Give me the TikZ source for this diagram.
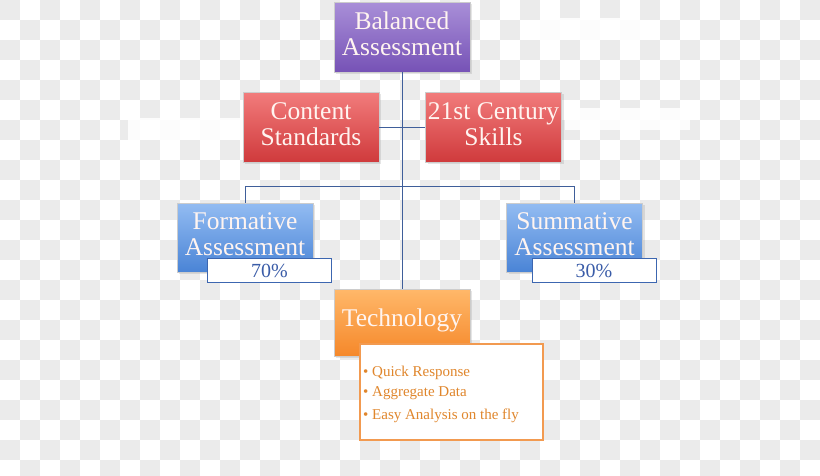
\documentclass[tikz,border=0pt]{standalone}
\usepackage{fontspec}
\setmainfont{Liberation Serif}
\usetikzlibrary{shadows}
\definecolor{chk}{HTML}{EBEBEB}
\definecolor{linec}{HTML}{3F5E9A}
\definecolor{pTop}{HTML}{A98FD8}
\definecolor{pBot}{HTML}{7652B6}
\definecolor{rTop}{HTML}{F27C7C}
\definecolor{rBot}{HTML}{CF3A3C}
\definecolor{bTop}{HTML}{93BCF2}
\definecolor{bBot}{HTML}{4A84D6}
\definecolor{oTop}{HTML}{FFB86A}
\definecolor{oBot}{HTML}{F5882A}
\definecolor{pctBorder}{HTML}{3C66B0}
\definecolor{pctText}{HTML}{3A5CA8}
\definecolor{listBorder}{HTML}{F29A50}
\definecolor{listText}{HTML}{E0862C}
\definecolor{boxText}{HTML}{FFF4F0}
\tikzset{
  box/.style={minimum width=136pt, minimum height=70pt, inner sep=0pt,
    draw=white!60!gray, line width=0.4pt,
    drop shadow={opacity=0.2, shadow xshift=2pt, shadow yshift=-2pt}},
  boxtext/.style={align=center, text=boxText, font=\fontsize{25.5}{26}\selectfont, inner sep=0pt},
  purplebox/.style={box, top color=pTop, bottom color=pBot},
  redbox/.style={box, top color=rTop, bottom color=rBot},
  bluebox/.style={box, top color=bTop, bottom color=bBot, minimum height=69pt},
  orangebox/.style={box, top color=oTop, bottom color=oBot, minimum height=67pt},
  pctbox/.style={draw=pctBorder, line width=1pt, fill=white, minimum width=124pt, minimum height=24pt,
    inner sep=0pt, text=pctText, font=\fontsize{20}{20}\selectfont},
  listitem/.style={anchor=west, text=listText, font=\fontsize{15}{15}\selectfont, inner sep=0pt},
  conn/.style={draw=linec, line width=0.7pt},
  mask/.style={fill=white, opacity=0.85, draw=none},
}
\begin{document}
\begin{tikzpicture}[x=1pt, y=-1pt]
\useasboundingbox (0,0) rectangle (820,475);
\fill[white] (0,0) rectangle (820,475);
% checkerboard
\foreach \j in {0,2,...,22} { \foreach \i in {0,2,...,40} { \fill[chk] (\i*20,\j*20) rectangle ++(20,20); } }
\foreach \j in {1,3,...,23} { \foreach \i in {1,3,...,39} { \fill[chk] (\i*20,\j*20) rectangle ++(20,20); } }
% white masks
\fill[mask] (128,118) rectangle (252,140);
\fill[mask] (540,18) rectangle (640,40);
\fill[mask] (565,108) rectangle (690,130);
% boxes
\node[purplebox] (bal) at (402,37) {};
\node[redbox] (cont) at (311,127) {};
\node[redbox] (skills) at (493.5,127) {};
\node[bluebox] (form) at (245,237.5) {};
\node[bluebox] (sum) at (574.5,237.5) {};
\node[orangebox] (tech) at (402,322.5) {};
\coordinate (bus) at (245,186);
% box texts
\node[boxtext] (balT) at (402,33.5) {Balanced\\Assessment};
\node[boxtext] (contT) at (311,124) {Content\\Standards};
\node[boxtext] (skillsT) at (493.5,124) {21st Century\\Skills};
\node[boxtext] (formT) at (245,234.5) {Formative\\Assessment};
\node[boxtext] (sumT) at (574.5,234.5) {Summative\\Assessment};
\node[boxtext] (techT) at (402,320) {Technology};
% percent boxes
\node[pctbox] (p70) at (269.5,270.5) {70\%};
\node[pctbox] (p30) at (594,270.5) {30\%};
% list box
\node[draw=listBorder, line width=1.2pt, fill=white, minimum width=183pt, minimum height=96pt,
  inner sep=0pt] (list) at (451.5,392) {};
\node[listitem] (l1) at (363,372.5) {\textbullet\ Quick Response};
\node[listitem] (l2) at (363,393) {\textbullet\ Aggregate Data};
\node[listitem] (l3) at (363,415.5) {\textbullet\ Easy Analysis on the fly};
% lines
\draw[conn] (bal.south) -- (tech.north);
\draw[conn] (cont.east) -- (skills.west);
\draw[conn] (form.north) -- (bus) -| (sum.north);
\end{tikzpicture}
\end{document}
